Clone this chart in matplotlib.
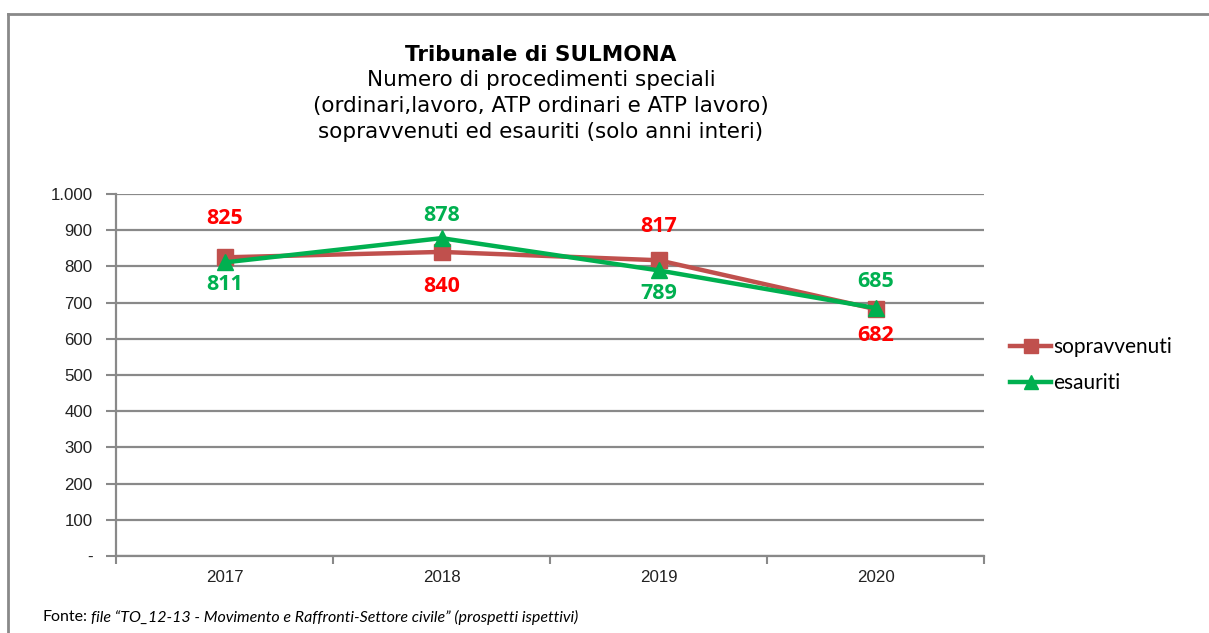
import matplotlib
matplotlib.use("Agg")
import matplotlib.pyplot as plt
from matplotlib.lines import Line2D
from matplotlib.ticker import FixedLocator, FuncFormatter

years = ["2017", "2018", "2019", "2020"]
sopravvenuti = [825, 840, 817, 682]
esauriti = [811, 878, 789, 685]
yticks = [0, 100, 200, 300, 400, 500, 600, 700, 800, 900, 1000]

# label offsets (points): positive = above
sop_off = [28, -25, 24, -19]
esa_off = [-16, 16, -17, 19]

RED = "#C0504D"
GREEN = "#00B050"
RED_TXT = "#FF0000"
GRAY = "#898989"

W, H = 1209, 633
fig = plt.figure(figsize=(W / 100, H / 100), dpi=100)
ax = fig.add_axes([116 / W, 1 - 556 / H, (984 - 116) / W, (556 - 194) / H])

x = list(range(len(years)))
ax.plot(x, sopravvenuti, color=RED, lw=3.2, marker="s", ms=11, zorder=3)
ax.plot(x, esauriti, color=GREEN, lw=3.2, marker="^", ms=11, zorder=4)

for i in x:
    ax.annotate(str(sopravvenuti[i]), (i, sopravvenuti[i]), xytext=(0, sop_off[i]),
                textcoords="offset points", ha="center", va="center",
                color=RED_TXT, fontsize=15.5, fontweight="bold", family="Open Sans")
    ax.annotate(str(esauriti[i]), (i, esauriti[i]), xytext=(0, esa_off[i]),
                textcoords="offset points", ha="center", va="center",
                color=GREEN, fontsize=15.5, fontweight="bold", family="Open Sans")

ax.set_xlim(-0.5, 3.5)
ax.set_ylim(0, 1000)
ax.yaxis.set_major_locator(FixedLocator(yticks))
ax.yaxis.set_major_formatter(FuncFormatter(
    lambda v, p: "-" if v == 0 else f"{int(v):,}".replace(",", ".")))
ax.xaxis.set_major_locator(FixedLocator([-0.5, 0.5, 1.5, 2.5, 3.5]))
ax.xaxis.set_major_formatter(FuncFormatter(lambda v, p: ""))
ax.xaxis.set_minor_locator(FixedLocator(x))
ax.xaxis.set_minor_formatter(FuncFormatter(lambda v, p: years[int(round(v))]))
ax.tick_params(axis="x", which="major", length=6, width=1.5, color=GRAY)
ax.tick_params(axis="x", which="minor", length=0, pad=10, labelsize=12.2,
               labelcolor="#222222")
ax.tick_params(axis="y", length=7, width=1.5, color=GRAY, labelsize=12.2,
               labelcolor="#222222", pad=10)
for lab in ax.get_xticklabels(minor=True) + ax.get_yticklabels():
    lab.set_family("Liberation Sans")

ax.grid(axis="y", color=GRAY, lw=1.6)
ax.set_axisbelow(True)
for s in ["top", "right"]:
    ax.spines[s].set_visible(False)
for s in ["left", "bottom"]:
    ax.spines[s].set_color(GRAY)
    ax.spines[s].set_linewidth(1.6)

handles = [Line2D([], [], color=RED, lw=3.2, marker="s", ms=10),
           Line2D([], [], color=GREEN, lw=3.2, marker="^", ms=10)]
fig.legend(handles, ["sopravvenuti", "esauriti"], loc="center left",
           bbox_to_anchor=(991 / W, 1 - 365 / H), frameon=False,
           prop={"family": "Lato", "size": 15}, handlelength=2.0,
           handletextpad=0.1, labelspacing=0.75)

cx = 541 / W
fs_t = 15.5
fig.text(cx, 1 - 55 / H, "Tribunale di SULMONA", ha="center", va="center",
         fontsize=fs_t, fontweight="bold", family="DejaVu Sans")
fig.text(cx, 1 - 80 / H, "Numero di procedimenti speciali", ha="center",
         va="center", fontsize=fs_t, family="DejaVu Sans")
fig.text(cx, 1 - 106 / H, "(ordinari,lavoro, ATP ordinari e ATP lavoro)",
         ha="center", va="center", fontsize=fs_t, family="DejaVu Sans")
fig.text(cx, 1 - 132 / H, "sopravvenuti ed esauriti (solo anni interi)",
         ha="center", va="center", fontsize=fs_t, family="DejaVu Sans")

t1 = fig.text(42 / W, 1 - 617 / H, "Fonte:", ha="left", va="center",
              fontsize=11.5, family="Lato")
r = fig.canvas.get_renderer()
bb = t1.get_window_extent(renderer=r)
fig.text((bb.x1 + 4) / W, 1 - 617 / H,
         "file \u201cTO_12-13 - Movimento e Raffronti-Settore civile\u201d (prospetti ispettivi)",
         ha="left", va="center", fontsize=11.5, family="Lato", style="italic")

# outer frame (top and left)
fig.add_artist(Line2D([8 / W, 1.0], [1 - 14 / H, 1 - 14 / H], color=GRAY, lw=2,
                      transform=fig.transFigure))
fig.add_artist(Line2D([8 / W, 8 / W], [1 - 14 / H, 0], color=GRAY, lw=2,
                      transform=fig.transFigure))

fig.savefig("out.png", dpi=100)
